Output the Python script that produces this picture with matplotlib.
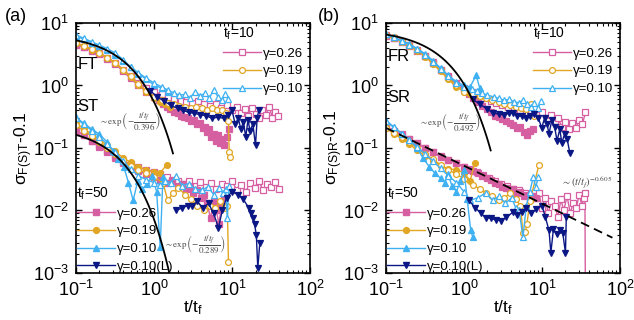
import numpy as np
import matplotlib
matplotlib.use("Agg")
import matplotlib.pyplot as plt
from matplotlib.lines import Line2D
from matplotlib.ticker import LogLocator, NullFormatter

plt.rcParams["font.family"] = ["Liberation Sans", "DejaVu Sans"]
plt.rcParams["mathtext.fontset"] = "custom"
plt.rcParams["mathtext.rm"] = "Liberation Sans"
plt.rcParams["mathtext.it"] = "Liberation Sans:italic"
plt.rcParams["mathtext.bf"] = "Liberation Sans:bold"

# ----- colours / markers per gamma -----
C_PINK = "#D65FA2"
C_GOLD = "#E1A623"
C_BLUE = "#3FB0F2"
C_NAVY = "#0B1785"

GAMMA_LABELS = ["γ=0.26", "γ=0.19", "γ=0.10", "γ=0.10(L)"]

# shared early-time grid t/t_f
T_EARLY = [0.1, 0.125, 0.16, 0.2, 0.25, 0.32, 0.4, 0.5, 0.63, 0.8, 1.0]

# ===== panel (a): FT group =====
A_FT_P10_X = T_EARLY + [1.25, 1.5, 1.8, 2.2, 2.6, 3.1, 3.7, 4.4, 5.2, 6.2, 7.3, 8.6, 10, 11.5, 13, 14.5, 16, 18, 20, 22, 24.5, 27, 30, 33, 36, 39]
A_FT_P10_Y = [4.6, 4.2, 3.7, 3.3, 2.8, 2.3, 1.8, 1.4, 1.1, 0.9, 0.8] + [0.72, 0.66, 0.6, 0.57, 0.55, 0.52, 0.56, 0.5, 0.47, 0.5, 0.44, 0.48, 0.4, 0.45, 0.36, 0.42, 0.32, 0.44, 0.35, 0.3, 0.4, 0.34, 0.46, 0.3, 0.38, 0.33]
A_FT_P50_X = T_EARLY + [1.15, 1.3, 1.45, 1.6, 1.8, 2.0, 2.2, 2.45, 2.7, 3.0, 3.3, 3.6, 3.9, 4.2, 4.5, 4.8, 5.1, 5.4, 5.8, 6.2, 6.6, 7.0, 7.5, 8.0, 8.6, 9.2]
A_FT_P50_Y = [4.5, 4.1, 3.6, 3.2, 2.7, 2.2, 1.7, 1.3, 1.0, 0.8, 0.66] + [0.58, 0.5, 0.46, 0.42, 0.38, 0.36, 0.33, 0.31, 0.3, 0.27, 0.28, 0.24, 0.25, 0.21, 0.22, 0.18, 0.2, 0.15, 0.17, 0.13, 0.16, 0.12, 0.14, 0.11, 0.15, 0.2]
A_FT_G10_X = T_EARLY + [1.25, 1.5, 1.8, 2.1, 2.5, 3.0, 3.5, 4.1, 4.8, 5.6, 6.5, 7.5, 8.4, 9.0, 9.2, 9.4]
A_FT_G10_Y = [4.8, 4.3, 3.8, 3.3, 2.8, 2.3, 1.8, 1.4, 1.05, 0.82, 0.66] + [0.58, 0.53, 0.5, 0.47, 0.46, 0.44, 0.45, 0.43, 0.41, 0.43, 0.4, 0.41, 0.36, 0.27, 0.085, 0.072]
A_FT_G50_X = T_EARLY + [1.2, 1.4, 1.6]
A_FT_G50_Y = [4.7, 4.25, 3.75, 3.3, 2.8, 2.25, 1.75, 1.35, 1.02, 0.8, 0.64] + [0.55, 0.5, 0.45]
A_FT_B10_X = T_EARLY + [1.25, 1.5, 1.8, 2.1, 2.5, 2.9, 3.4, 3.9, 4.5, 5.1, 5.8, 6.6, 7.4, 8.2, 9.0]
A_FT_B10_Y = [6.5, 5.7, 5.0, 4.4, 3.9, 3.3, 2.6, 2.0, 1.6, 1.3, 1.1] + [0.95, 0.85, 0.76, 0.7, 0.72, 0.64, 0.8, 0.68, 0.75, 0.62, 0.86, 0.66, 0.58, 0.74, 0.6]
A_FT_B50_X = T_EARLY + [1.25, 1.5]
A_FT_B50_Y = [6.2, 5.5, 4.8, 4.3, 3.7, 3.1, 2.5, 1.95, 1.55, 1.25, 1.02] + [0.9, 0.8]
A_FT_N50_X = [0.9, 1.1, 1.35, 1.65, 2.0, 2.35, 2.8, 3.3, 3.9, 4.6, 5.5, 6.6, 7.8, 9.0, 10, 11, 12, 13, 14, 15, 16, 17, 18.5, 20, 21, 22]
A_FT_N50_Y = [0.82, 0.66, 0.56, 0.48, 0.43, 0.4, 0.37, 0.36, 0.34, 0.33, 0.3, 0.31, 0.3, 0.34, 0.4, 0.24, 0.3, 0.2, 0.26, 0.15, 0.28, 0.19, 0.24, 0.11, 0.3, 0.4]

# ===== panel (a): ST group =====
A_ST_P10_X = T_EARLY + [1.2, 1.45, 1.7, 2.0, 2.4, 2.8, 3.3, 3.9, 4.6, 5.4, 6.3, 7.4, 8.7, 10, 11.5, 13, 15, 17, 19.5, 22, 25, 28, 32, 36, 40]
A_ST_P10_Y = [0.19, 0.16, 0.13, 0.11, 0.09, 0.075, 0.063, 0.055, 0.049, 0.045, 0.041] + [0.038, 0.034, 0.031, 0.03, 0.027, 0.03, 0.025, 0.029, 0.024, 0.028, 0.022, 0.027, 0.025, 0.03, 0.021, 0.026, 0.02, 0.028, 0.023, 0.03, 0.021, 0.027, 0.024, 0.029, 0.022]
A_ST_P50_X = T_EARLY + [1.2, 1.45, 1.7, 2.0, 2.3, 2.6, 2.9, 3.2, 3.6, 4.0, 4.4, 4.8, 5.3, 5.8, 6.3, 6.8, 7.3, 7.9]
A_ST_P50_Y = [0.19, 0.16, 0.13, 0.105, 0.086, 0.07, 0.058, 0.049, 0.043, 0.038, 0.034] + [0.031, 0.028, 0.03, 0.025, 0.027, 0.022, 0.024, 0.019, 0.021, 0.016, 0.018, 0.013, 0.0075, 0.014, 0.01, 0.006, 0.012, 0.016]
A_ST_G10_X = T_EARLY + [1.3, 1.5, 1.75, 2.05, 2.5, 3.0, 3.6, 4.4, 5.2, 6.1, 7.1, 8.0, 8.7, 9.0]
A_ST_G10_Y = [0.23, 0.19, 0.155, 0.125, 0.1, 0.08, 0.064, 0.052, 0.045, 0.04, 0.034] + [0.028, 0.0145, 0.019, 0.023, 0.018, 0.015, 0.012, 0.01, 0.012, 0.011, 0.014, 0.011, 0.012, 0.0015]
A_ST_G50_X = T_EARLY + [1.2, 1.45]
A_ST_G50_Y = [0.25, 0.205, 0.165, 0.135, 0.11, 0.088, 0.07, 0.059, 0.05, 0.045, 0.042] + [0.04, 0.054]
A_ST_B10_X = T_EARLY + [1.2, 1.4, 1.65, 1.9, 2.3, 2.8, 3.4, 4.1, 4.9, 5.8, 6.8, 7.6, 8.3, 8.7, 9.1]
A_ST_B10_Y = [0.3, 0.24, 0.19, 0.15, 0.115, 0.085, 0.062, 0.046, 0.036, 0.031, 0.028] + [0.026, 0.03, 0.028, 0.036, 0.025, 0.027, 0.022, 0.021, 0.024, 0.018, 0.023, 0.019, 0.022, 0.0075, 0.025]
A_ST_B50_X = [0.1, 0.125, 0.16, 0.2, 0.25, 0.3, 0.35, 0.41, 0.47, 0.54, 0.62, 0.71, 0.82, 0.95, 1.08, 1.2, 1.3]
A_ST_B50_Y = [0.31, 0.25, 0.2, 0.165, 0.125, 0.09, 0.066, 0.05, 0.028, 0.0145, 0.03, 0.022, 0.027, 0.036, 0.02, 0.0026, 0.034]
A_ST_N50_X = [1.9, 2.3, 2.7, 3.1, 3.6, 4.2, 5.0, 5.8, 6.7, 7.5, 8.5, 10, 12, 14, 16.4, 17.5, 18.4, 19.5, 20.5, 21.4, 22.7]
A_ST_N50_Y = [0.01, 0.011, 0.012, 0.012, 0.014, 0.011, 0.013, 0.009, 0.0053, 0.01, 0.016, 0.02, 0.018, 0.015, 0.011, 0.009, 0.0077, 0.006, 0.004, 0.0012, 0.003]

# ===== panel (b): FR group =====
B_FR_P10_X = T_EARLY + [1.25, 1.5, 1.8, 2.2, 2.6, 3.1, 3.7, 4.4, 5.2, 6.2, 7.3, 8.6, 10, 11.5, 13, 14.5, 16, 18, 20, 22, 24.5, 27, 30, 33, 36]
B_FR_P10_Y = [6.4, 5.8, 5.1, 4.4, 3.7, 3.0, 2.35, 1.8, 1.4, 1.1, 0.92] + [0.8, 0.7, 0.62, 0.56, 0.52, 0.48, 0.45, 0.42, 0.4, 0.38, 0.36, 0.34, 0.38, 0.3, 0.34, 0.27, 0.3, 0.22, 0.26, 0.2, 0.25, 0.21, 0.28, 0.24, 0.37]
B_FR_P50_X = T_EARLY + [1.15, 1.3, 1.5, 1.7, 1.95, 2.2, 2.5, 2.8, 3.1, 3.5, 3.9, 4.3, 4.8, 5.3, 5.9, 6.5, 7.1, 7.7]
B_FR_P50_Y = [6.3, 5.7, 5.0, 4.3, 3.6, 2.95, 2.3, 1.75, 1.35, 1.05, 0.85] + [0.72, 0.62, 0.54, 0.47, 0.42, 0.37, 0.33, 0.31, 0.29, 0.27, 0.25, 0.23, 0.21, 0.22, 0.18, 0.16, 0.19, 0.2]
B_FR_G10_X = T_EARLY + [1.3, 1.6, 1.9, 2.3, 2.8, 3.3, 3.9, 4.6, 5.4, 6.3, 7.2, 7.8]
B_FR_G10_Y = [6.5, 5.9, 5.1, 4.4, 3.7, 3.0, 2.3, 1.75, 1.3, 1.0, 0.8] + [0.72, 0.68, 0.62, 0.58, 0.55, 0.5, 0.48, 0.46, 0.44, 0.42, 0.5, 0.33]
B_FR_G50_X = T_EARLY + [1.2, 1.4, 1.6]
B_FR_G50_Y = [6.4, 5.8, 5.0, 4.3, 3.6, 2.9, 2.2, 1.7, 1.25, 0.95, 0.8] + [0.74, 0.7, 0.68]
B_FR_B10_X = T_EARLY + [1.25, 1.45, 1.7, 2.0, 2.4, 2.8, 3.3, 3.8, 4.4, 5.0, 5.7, 6.4, 7.2, 8.0, 8.9, 9.8]
B_FR_B10_Y = [6.6, 5.9, 5.1, 4.5, 3.8, 3.1, 2.4, 1.85, 1.4, 1.1, 0.95] + [0.88, 0.82, 0.76, 0.7, 0.66, 0.62, 0.58, 0.6, 0.55, 0.53, 0.58, 0.5, 0.46, 0.52, 0.44, 0.57]
B_FR_B50_X = T_EARLY + [1.2, 1.43, 1.6]
B_FR_B50_Y = [6.7, 6.0, 5.2, 4.6, 3.9, 3.2, 2.5, 1.9, 1.45, 1.15, 1.0] + [0.95, 1.45, 0.9]
B_FR_N50_X = [1.3, 1.6, 2.0, 2.35, 2.8, 3.3, 3.8, 4.2, 4.8, 5.5, 6.2, 7.0, 8.0, 9.0, 9.9, 10.8, 11.6, 12.3, 13.4, 14.5, 15.6, 16.9, 18, 19.5, 21, 22.8]
B_FR_N50_Y = [0.6, 0.5, 0.42, 0.36, 0.35, 0.34, 0.36, 0.36, 0.33, 0.32, 0.3, 0.33, 0.35, 0.3, 0.21, 0.3, 0.24, 0.17, 0.28, 0.22, 0.13, 0.2, 0.12, 0.17, 0.14, 0.082]

# ===== panel (b): SR group =====
B_SR_P10_X = T_EARLY + [1.2, 1.45, 1.75, 2.1, 2.5, 3.0, 3.6, 4.3, 5.1, 6.1, 7.2, 8.5, 9.1, 10, 11, 12, 13.2, 14.5, 16, 17.5, 19, 21, 23, 25, 27.5, 30, 32.5, 34.5, 35.5, 36.0]
B_SR_P10_Y = [0.22, 0.19, 0.16, 0.14, 0.12, 0.1, 0.085, 0.073, 0.065, 0.057, 0.05] + [0.045, 0.041, 0.037, 0.033, 0.03, 0.027, 0.025, 0.022, 0.021, 0.019, 0.017, 0.016, 0.019, 0.011, 0.016, 0.009, 0.014, 0.012, 0.008, 0.015, 0.01, 0.017, 0.009, 0.013, 0.011, 0.018, 0.012, 0.016, 0.019, 0.0005]
B_SR_P50_X = T_EARLY + [1.15, 1.3, 1.5, 1.7, 1.95, 2.2, 2.5, 2.8, 3.1, 3.5, 3.9, 4.3, 4.8, 5.3, 5.9, 6.5, 7.1, 7.7, 8.4]
B_SR_P50_Y = [0.22, 0.19, 0.165, 0.14, 0.12, 0.1, 0.086, 0.074, 0.065, 0.057, 0.05] + [0.046, 0.043, 0.04, 0.036, 0.033, 0.031, 0.028, 0.027, 0.024, 0.023, 0.021, 0.022, 0.019, 0.02, 0.017, 0.018, 0.015, 0.017, 0.016]
B_SR_G10_X = T_EARLY + [1.3, 1.6, 1.9, 2.3, 2.8, 3.3, 3.9, 4.6, 5.3, 5.7, 6.1, 6.4, 7.0, 9.1]
B_SR_G10_Y = [0.21, 0.175, 0.15, 0.125, 0.1, 0.08, 0.066, 0.054, 0.045, 0.038, 0.032] + [0.026, 0.022, 0.019, 0.017, 0.0145, 0.016, 0.019, 0.015, 0.012, 0.0043, 0.0045, 0.006, 0.014, 0.053]
B_SR_G50_X = T_EARLY + [1.2, 1.38]
B_SR_G50_Y = [0.21, 0.17, 0.14, 0.115, 0.092, 0.075, 0.062, 0.052, 0.046, 0.045, 0.04] + [0.03, 0.058]
B_SR_B10_X = T_EARLY + [1.2, 1.5, 1.9, 2.35, 2.8, 3.4, 4.1, 4.6, 5.1, 5.7, 6.3, 7.0, 7.7, 8.3, 9.0]
B_SR_B10_Y = [0.27, 0.215, 0.17, 0.135, 0.105, 0.08, 0.062, 0.047, 0.036, 0.028, 0.02] + [0.0145, 0.016, 0.019, 0.0145, 0.017, 0.013, 0.016, 0.011, 0.01, 0.0037, 0.012, 0.02, 0.034, 0.024, 0.034]
B_SR_B50_X = [0.1, 0.125, 0.16, 0.2, 0.25, 0.3, 0.36, 0.42, 0.5, 0.57, 0.62, 0.7, 0.8, 0.9, 1.0, 1.1, 1.22, 1.3]
B_SR_B50_Y = [0.275, 0.22, 0.17, 0.135, 0.1, 0.068, 0.05, 0.04, 0.033, 0.028, 0.039, 0.025, 0.02, 0.03, 0.044, 0.015, 0.0048, 0.0037]
B_SR_N50_X = [1.16, 1.4, 1.65, 1.9, 2.2, 2.6, 3.0, 3.5, 4.2, 4.8, 5.5, 6.3, 7.3, 8.5, 10, 11, 12.3, 13.0, 14, 15.5, 17, 18.5, 20, 20.5]
B_SR_N50_Y = [0.0145, 0.011, 0.009, 0.0077, 0.0075, 0.007, 0.0069, 0.0078, 0.0093, 0.0085, 0.0095, 0.011, 0.009, 0.0105, 0.012, 0.008, 0.0048, 0.0021, 0.005, 0.0042, 0.0048, 0.0043, 0.0021, 0.008]

# fit parameters: amplitude, decay constant / exponent
FIT_FT = (6.8, 0.396)
FIT_ST = (0.229, 0.289)
FIT_FR = (8.0, 0.492)
FIT_SR = (0.052, -0.605)

# marker styles (open = t_f=10, filled = t_f=50)
STYLE = {
    "P": dict(color=C_PINK, marker="s", ms=4.0),
    "G": dict(color=C_GOLD, marker="o", ms=4.2),
    "B": dict(color=C_BLUE, marker="^", ms=4.8),
    "N": dict(color=C_NAVY, marker="v", ms=4.8),
}


def plot_series(ax, x, y, key, filled):
    st = STYLE[key]
    ax.plot(x, y, color=st["color"], marker=st["marker"], ms=st["ms"], lw=1.0,
            mfc=st["color"] if filled else "white", mec=st["color"], mew=0.9)


def style_axes(ax):
    ax.set_xscale("log")
    ax.set_yscale("log")
    ax.set_xlim(0.1, 100)
    ax.set_ylim(1e-3, 10)
    ax.xaxis.set_major_locator(LogLocator(base=10, numticks=10))
    ax.yaxis.set_major_locator(LogLocator(base=10, numticks=10))
    ax.xaxis.set_minor_locator(LogLocator(base=10, subs=np.arange(2, 10), numticks=10))
    ax.yaxis.set_minor_locator(LogLocator(base=10, subs=np.arange(2, 10), numticks=10))
    ax.xaxis.set_minor_formatter(NullFormatter())
    ax.yaxis.set_minor_formatter(NullFormatter())
    ax.tick_params(which="both", direction="in", top=True, right=True, labelsize=13)
    ax.tick_params(which="major", length=4.5, width=1.0, pad=5)
    ax.tick_params(which="minor", length=2.5, width=0.8)
    for sp in ax.spines.values():
        sp.set_linewidth(1.2)
    ax.set_xlabel("t/t$_\\mathregular{f}$", fontsize=12.5, labelpad=-1)


def add_legends(ax):
    kw = dict(frameon=False, fontsize=9.5, title_fontsize=10, alignment="left",
              handlelength=2.9, handletextpad=0.15, labelspacing=0.42,
              borderpad=0, borderaxespad=0, numpoints=1)
    up = [Line2D([], [], color=STYLE[k]["color"], marker=STYLE[k]["marker"],
                 ms=STYLE[k]["ms"], mfc="white", mew=0.9, lw=1.0) for k in "PGB"]
    leg1 = ax.legend(up, GAMMA_LABELS[:3], title="t$_\\mathregular{f}$=10",
                     loc="upper left", bbox_to_anchor=(0.628, 0.99), **kw)
    ax.add_artist(leg1)
    lo = [Line2D([], [], color=STYLE[k]["color"], marker=STYLE[k]["marker"],
                 ms=STYLE[k]["ms"], lw=1.0) for k in "PGBN"]
    ax.legend(lo, GAMMA_LABELS, title="t$_\\mathregular{f}$=50",
              loc="lower left", bbox_to_anchor=(0.003, 0.0), **kw)


def draw_group(ax, groups):
    for x, y, key, filled in groups:
        plot_series(ax, x, y, key, filled)


fig = plt.figure(figsize=(6.34, 3.2), dpi=100)
ax_a = fig.add_axes([0.1199, 0.1469, 0.3691, 0.78125])
ax_b = fig.add_axes([0.6088, 0.1469, 0.3691, 0.78125])

# ----- panel (a) -----
draw_group(ax_a, [
    (A_FT_P10_X, A_FT_P10_Y, "P", False),
    (A_FT_P50_X, A_FT_P50_Y, "P", True),
    (A_FT_G50_X, A_FT_G50_Y, "G", True),
    (A_FT_G10_X, A_FT_G10_Y, "G", False),
    (A_FT_B50_X, A_FT_B50_Y, "B", True),
    (A_FT_B10_X, A_FT_B10_Y, "B", False),
    (A_FT_N50_X, A_FT_N50_Y, "N", True),
    (A_ST_P10_X, A_ST_P10_Y, "P", False),
    (A_ST_P50_X, A_ST_P50_Y, "P", True),
    (A_ST_G50_X, A_ST_G50_Y, "G", True),
    (A_ST_G10_X, A_ST_G10_Y, "G", False),
    (A_ST_B50_X, A_ST_B50_Y, "B", True),
    (A_ST_B10_X, A_ST_B10_Y, "B", False),
    (A_ST_N50_X, A_ST_N50_Y, "N", True),
])
tt = np.logspace(-1, np.log10(1.75), 120)
ax_a.plot(tt, FIT_FT[0] * np.exp(-tt / FIT_FT[1]), color="black", lw=1.3, zorder=5)
tt = np.logspace(-1, np.log10(1.7), 120)
ax_a.plot(tt, FIT_ST[0] * np.exp(-tt / FIT_ST[1]), color="black", lw=1.3, zorder=5)

# ----- panel (b) -----
draw_group(ax_b, [
    (B_FR_P10_X, B_FR_P10_Y, "P", False),
    (B_FR_P50_X, B_FR_P50_Y, "P", True),
    (B_FR_G50_X, B_FR_G50_Y, "G", True),
    (B_FR_G10_X, B_FR_G10_Y, "G", False),
    (B_FR_B50_X, B_FR_B50_Y, "B", True),
    (B_FR_B10_X, B_FR_B10_Y, "B", False),
    (B_FR_N50_X, B_FR_N50_Y, "N", True),
    (B_SR_P10_X, B_SR_P10_Y, "P", False),
    (B_SR_P50_X, B_SR_P50_Y, "P", True),
    (B_SR_G50_X, B_SR_G50_Y, "G", True),
    (B_SR_G10_X, B_SR_G10_Y, "G", False),
    (B_SR_B50_X, B_SR_B50_Y, "B", True),
    (B_SR_B10_X, B_SR_B10_Y, "B", False),
    (B_SR_N50_X, B_SR_N50_Y, "N", True),
])
tt = np.logspace(-1, np.log10(2.2), 120)
ax_b.plot(tt, FIT_FR[0] * np.exp(-tt / FIT_FR[1]), color="black", lw=1.3, zorder=5)
tt = np.logspace(-1, np.log10(80), 120)
ax_b.plot(tt, FIT_SR[0] * tt ** FIT_SR[1], color="black", lw=1.3, ls=(0, (5, 3)), zorder=5)

for ax in (ax_a, ax_b):
    style_axes(ax)
    add_legends(ax)

ax_a.set_ylabel("σ$_\\mathregular{F(S)T}$-0.1", fontsize=12.5)
ax_b.set_ylabel("σ$_\\mathregular{F(S)R}$-0.1", fontsize=12.5)
ax_a.yaxis.set_label_coords(-0.175, 0.5)
ax_b.yaxis.set_label_coords(-0.175, 0.5)

# group labels
ax_a.text(0.104, 2.2, "FT", fontsize=12, va="center", ha="left")
ax_a.text(0.104, 0.46, "ST", fontsize=12, va="center", ha="left")
ax_b.text(0.104, 2.9, "FR", fontsize=12, va="center", ha="left")
ax_b.text(0.104, 0.64, "SR", fontsize=12, va="center", ha="left")

# fit annotations
fkw = dict(fontsize=6.5, color="#4a4a4a", ha="center", va="center", math_fontfamily="stix")
ax_a.text(0.5, 0.26, r"$\sim\exp\left(-\dfrac{t/t_f}{0.396}\right)$", **fkw)
ax_a.text(3.3, 0.0029, r"$\sim\exp\left(-\dfrac{t/t_f}{0.289}\right)$", **fkw)
ax_b.text(0.66, 0.26, r"$\sim\exp\left(-\dfrac{t/t_f}{0.492}\right)$", **fkw)
ax_b.text(37, 0.028, r"$\sim\left(t/t_f\right)^{-0.605}$", fontsize=7.5, color="#4a4a4a",
          ha="center", va="center", math_fontfamily="stix")

fig.text(0.008, 0.948, "(a)", fontsize=13, va="center", ha="left")
fig.text(0.502, 0.948, "(b)", fontsize=13, va="center", ha="left")

fig.savefig("out.png", dpi=100)
